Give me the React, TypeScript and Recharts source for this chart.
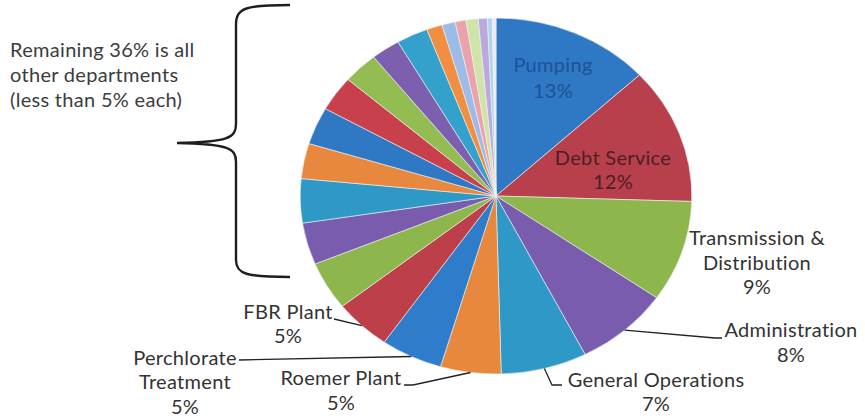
import React from 'react';
import { PieChart, Pie, Cell } from 'recharts';

// department names, clockwise from 12 o'clock
const departments = [
  'Pumping',
  'Debt Service',
  'Transmission & Distribution',
  'Administration',
  'General Operations',
  'Roemer Plant',
  'Perchlorate Treatment',
  'FBR Plant',
  'Other A', 'Other B', 'Other C', 'Other D', 'Other E', 'Other F', 'Other G', 'Other H',
  'Other I', 'Other J', 'Other K', 'Other L', 'Other M', 'Other N', 'Other O', 'Other P',
];

// share of budget (%)
const shares = [
  13.1, 12.4, 9.2, 7.8, 7.1, 5.0, 5.1, 4.7,
  4.4, 3.8, 4.0, 3.2, 3.4, 3.2, 2.9, 2.4,
  2.6, 1.3, 1.1, 0.9, 1.0, 0.75, 0.4, 0.3,
];

const sliceColors = [
  '#2f78c4', '#b8404c', '#8db64c', '#7a5cae', '#2e98c6', '#e8873e',
  '#2f7cca', '#bc3f4a', '#8db64c', '#7a5cae', '#2e98c6', '#e8873e',
  '#2f78c4', '#c8404c', '#93bd52', '#7d5fb0', '#34a0cc', '#f08e42',
  '#9dbbe6', '#eaa3ab', '#cfe3aa', '#b9a9dc', '#acd6ea', '#eee8f6',
];

// label text lines for the named slices (percent appended from the data)
const labelLines: string[][] = [
  ['Pumping'],
  ['Debt Service'],
  ['Transmission &', 'Distribution'],
  ['Administration'],
  ['General Operations'],
  ['Roemer Plant'],
  ['Perchlorate', 'Treatment'],
  ['FBR Plant'],
];

const data = departments.map((name, i) => ({ name, value: shares[i] }));

// layout of each label: text center x, first baseline y, line gap, elbow points of leader line
const labelLayout: { x: number; y: number; gap: number; color: string; leader?: number[][] }[] = [
  { x: 553, y: 72, gap: 26, color: '#1f5296' },
  { x: 613, y: 165, gap: 23.5, color: '#4d1f22' },
  { x: 757, y: 245, gap: 24.5, color: '#333' },
  { x: 791, y: 337, gap: 24.5, color: '#333', leader: [[715, 338], [722, 338]] },
  { x: 656, y: 387, gap: 24, color: '#333', leader: [[552, 385], [562, 385]] },
  { x: 341, y: 385, gap: 24.5, color: '#333', leader: [[413, 385], [404, 385]] },
  { x: 185, y: 365, gap: 24.3, color: '#333', leader: [[239, 360]] },
  { x: 288, y: 319, gap: 24, color: '#333', leader: [[334, 319]] },
];

const RAD = Math.PI / 180;
const STRETCH = 1.1; // scanned pie is slightly wider than tall

const EllipseSector = (props: any) => {
  const { cx, cy, outerRadius, startAngle, endAngle, fill } = props;
  const rx = outerRadius * STRETCH;
  const ry = outerRadius;
  const p = (a: number) => [cx + rx * Math.cos(a * RAD), cy - ry * Math.sin(a * RAD)];
  const [x1, y1] = p(startAngle);
  const [x2, y2] = p(endAngle);
  const large = Math.abs(startAngle - endAngle) > 180 ? 1 : 0;
  const sweep = startAngle > endAngle ? 1 : 0;
  const d = `M${cx},${cy} L${x1},${y1} A${rx},${ry} 0 ${large} ${sweep} ${x2},${y2} Z`;
  return <path d={d} fill={fill} stroke="#f4f4f4" strokeWidth={0.6} />;
};

const renderLabel = (props: any) => {
  const { cx, cy, midAngle, outerRadius, index, percent } = props;
  if (index >= labelLines.length) return null;
  const layout = labelLayout[index];
  const lines = [...labelLines[index], `${Math.round(percent * 100)}%`];
  const ex = cx + outerRadius * STRETCH * Math.cos(midAngle * RAD);
  const ey = cy - outerRadius * Math.sin(midAngle * RAD);
  const pts = layout.leader ? [[ex, ey], ...layout.leader] : null;
  return (
    <g key={`lbl-${index}`}>
      {pts && (
        <polyline
          points={pts.map((q) => q.join(',')).join(' ')}
          fill="none"
          stroke="#222"
          strokeWidth={1.3}
        />
      )}
      <text
        x={layout.x}
        y={layout.y}
        textAnchor="middle"
        fill={layout.color}
        fontSize={20}
        letterSpacing={0.3}
      >
        {lines.map((t, i) => (
          <tspan key={i} x={layout.x} dy={i === 0 ? 0 : layout.gap}>
            {t}
          </tspan>
        ))}
      </text>
    </g>
  );
};

export default function App() {
  return (
    <div
      style={{
        position: 'absolute',
        left: 0,
        top: 0,
        width: 865,
        height: 419,
        background: '#fff',
        fontFamily: 'Lato, sans-serif',
      }}
    >
      <PieChart width={865} height={419} style={{ fontFamily: 'Lato, sans-serif' }}>
        <Pie
          data={data}
          dataKey="value"
          nameKey="name"
          cx={491}
          cy={191}
          outerRadius={178}
          startAngle={90}
          endAngle={-270}
          shape={EllipseSector}
          inactiveShape={EllipseSector}
          activeShape={EllipseSector}
          label={renderLabel}
          labelLine={false}
          isAnimationActive={false}
        >
          {data.map((d, i) => (
            <Cell key={d.name} fill={sliceColors[i]} />
          ))}
        </Pie>
      </PieChart>
      <svg
        width={865}
        height={419}
        style={{ position: 'absolute', left: 0, top: 0, pointerEvents: 'none' }}
      >
        <path
          d="M290,5 C246,5 236,8 236,24 L236,124 C236,138 228,142 177,143 C228,144 236,148 236,162 L236,260 C236,274 246,277 290,277"
          fill="none"
          stroke="#1e1e1e"
          strokeWidth={2.4}
        />
        <text x={10} y={57} fontSize={20} letterSpacing={0.3} fill="#3c3c3c">
          <tspan x={10}>Remaining 36% is all</tspan>
          <tspan x={10} dy={25}>other departments</tspan>
          <tspan x={10} dy={25}>(less than 5% each)</tspan>
        </text>
      </svg>
    </div>
  );
}
